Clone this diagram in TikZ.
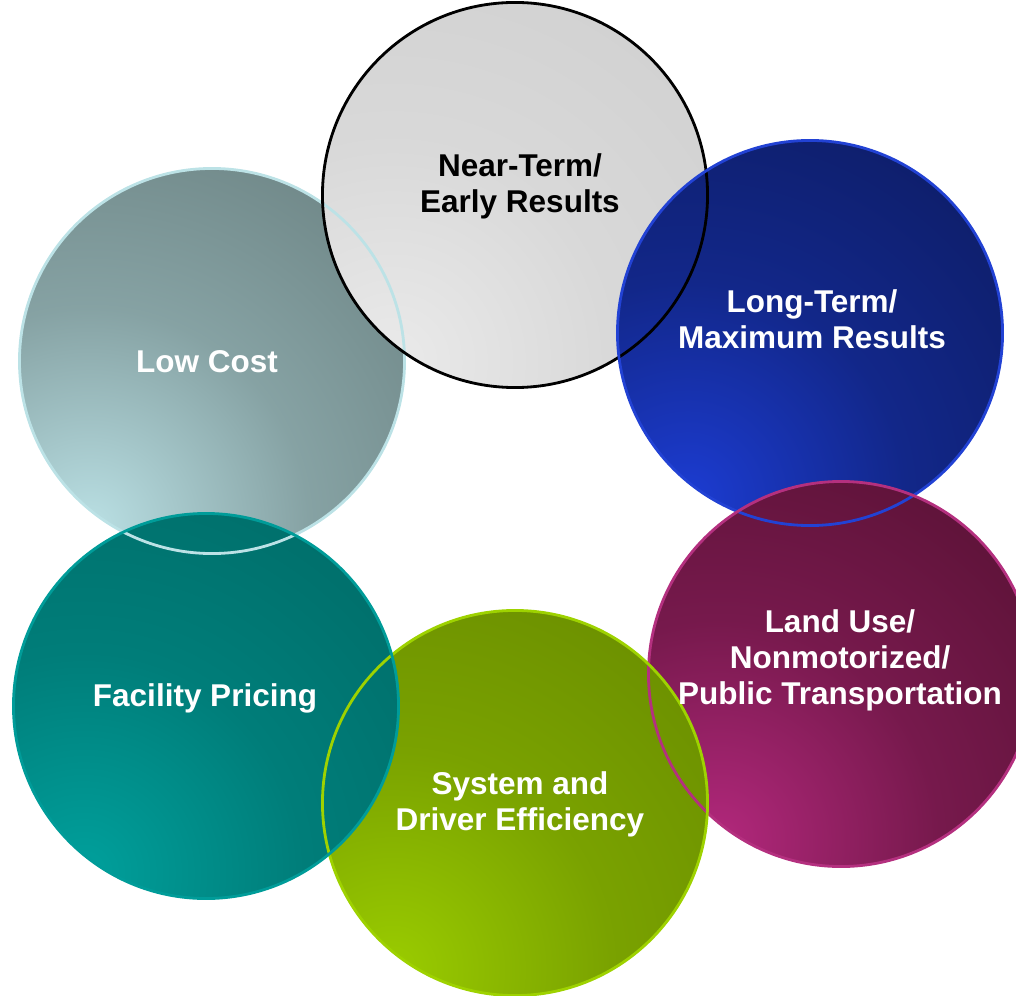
\documentclass[tikz,border=0pt]{standalone}
\usepackage{fontspec}
\setmainfont{Liberation Sans}
\usepackage{tikz}
\usetikzlibrary{calc}

\definecolor{lowlight}{HTML}{BAE0E4}
\definecolor{lowdark}{HTML}{667C7C}
\definecolor{lowring}{HTML}{BCE2E6}
\definecolor{nearlight}{HTML}{EAEAEA}
\definecolor{neardark}{HTML}{CECECE}
\definecolor{longlight}{HTML}{1C3CD2}
\definecolor{longdark}{HTML}{0C1A5C}
\definecolor{longring}{HTML}{2242D4}
\definecolor{landlight}{HTML}{B2287C}
\definecolor{landdark}{HTML}{52102F}
\definecolor{landring}{HTML}{B4307F}
\definecolor{syslight}{HTML}{9ACC00}
\definecolor{sysdark}{HTML}{668800}
\definecolor{sysring}{HTML}{9ED200}
\definecolor{faclight}{HTML}{00A09C}
\definecolor{facdark}{HTML}{006864}
\definecolor{facring}{HTML}{009C99}

\pgfdeclareradialshading[glowin,glowout]{glow}{\pgfpointorigin}{%
  color(0bp)=(glowin); color(15bp)=(glowin!38!glowout); color(35bp)=(glowout); color(50bp)=(glowout)}

\tikzset{
  disc/.style n args={2}{circle, minimum size=9.625cm, inner sep=0pt,
    path picture={
      \colorlet{glowin}{#1}\colorlet{glowout}{#2}
      \shade[shading=glow]
        ([shift={(-12.2cm,-13.3cm)}]path picture bounding box.center) rectangle
        ([shift={(6.08cm,4.98cm)}]path picture bounding box.center);
    }},
  ring/.style={line width=2pt, draw=#1},
  lbl/.style={font=\bfseries\fontsize{22.4}{25.5}\selectfont, align=center, text=white}
}

\begin{document}
\begin{tikzpicture}[x=0.025cm, y=0.025cm]
      \useasboundingbox (0,0) rectangle (1016,995);
      % fills, lowest first
      \node[disc={lowlight}{lowdark}] (lowcost) at (212,634) {};
      \node[disc={nearlight}{neardark}] (nearterm) at (515,800) {};
      \node[disc={longlight}{longdark}] (longterm) at (810,662) {};
      \node[disc={landlight}{landdark}] (landuse) at (841,321) {};
      \node[disc={syslight}{sysdark}] (system) at (515,192) {};
      \node[disc={faclight}{facdark}] (facility) at (206,289) {};
      % outlines on top of all fills
      \draw[ring=lowring] (lowcost.center) circle[radius=4.8125cm];
      \draw[ring=black] (nearterm.center) circle[radius=4.8125cm];
      \draw[ring=longring] (longterm.center) circle[radius=4.8125cm];
      \draw[ring=landring] (landuse.center) circle[radius=4.8125cm];
      \draw[ring=sysring] (system.center) circle[radius=4.8125cm];
      \draw[ring=facring] (facility.center) circle[radius=4.8125cm];
      % labels
      \node[lbl, text=black] (nearterm-txt) at (520,809) {Near-Term/\\Early Results};
      \node[lbl] (longterm-txt) at (812,676) {Long-Term/\\Maximum Results};
      \node[lbl] (lowcost-txt) at (207,633) {Low Cost};
      \node[lbl] (facility-txt) at (205,297) {Facility Pricing};
      \node[lbl] (system-txt) at (520,191) {System and\\Driver Efficiency};
      \node[lbl] (landuse-txt) at (840,335) {Land Use/\\Nonmotorized/\\Public Transportation};
\end{tikzpicture}
\end{document}
